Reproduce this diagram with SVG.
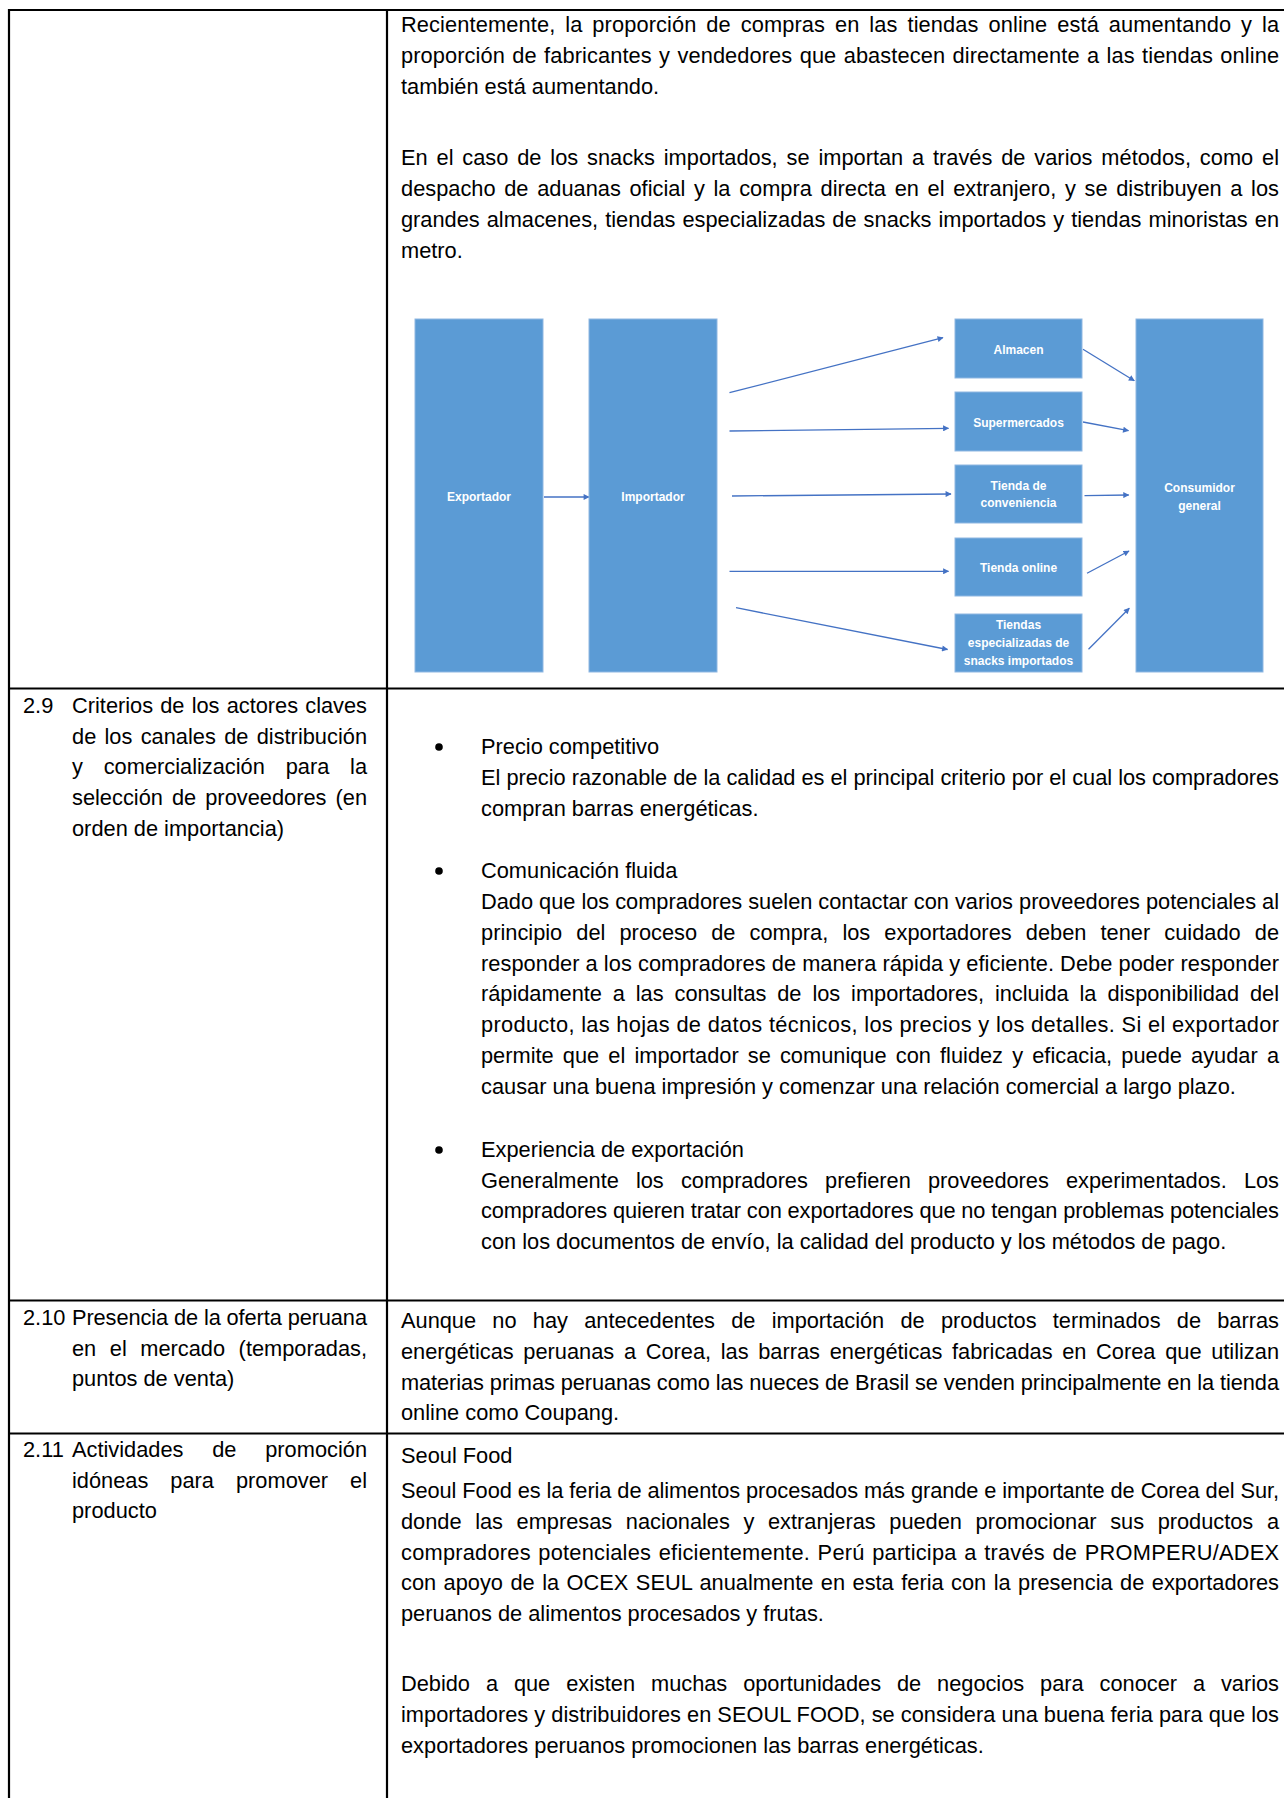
<svg xmlns="http://www.w3.org/2000/svg" width="1284" height="1798" viewBox="0 0 1284 1798">
<style>
.t{font-family:"Liberation Sans",Arial,sans-serif;font-size:21.8px;fill:#000}
.b{fill:#5B9BD5;stroke:#8FB7E2;stroke-width:1}
.l{font-family:"Liberation Sans",Arial,sans-serif;font-size:12px;font-weight:bold;fill:#fff;text-anchor:middle}
.c{stroke:#4472C4;stroke-width:1.3;fill:none;marker-end:url(#ah)}
.g{stroke:#000;stroke-width:2.2;fill:none}
</style>
<defs>
<marker id="ah" viewBox="0 0 10 10" refX="9" refY="5" markerWidth="7" markerHeight="6" orient="auto" markerUnits="userSpaceOnUse"><path d="M0,0 L10,5 L0,10 z" fill="#4472C4"/></marker>
</defs>
<rect x="0" y="0" width="1284" height="1798" fill="#fff"/>
<g id="table">
<line class="g" x1="8" y1="10" x2="1284" y2="10"/>
<line class="g" x1="9" y1="9" x2="9" y2="1798"/>
<line class="g" x1="387" y1="9" x2="387" y2="1798"/>
<line class="g" x1="8" y1="688.5" x2="1284" y2="688.5"/>
<line class="g" x1="8" y1="1300.5" x2="1284" y2="1300.5"/>
<line class="g" x1="8" y1="1433.5" x2="1284" y2="1433.5"/>
</g>
<g id="row1-text" class="t">
<text x="401" y="32" word-spacing="3.7" textLength="878" lengthAdjust="spacing">Recientemente, la proporción de compras en las tiendas online está aumentando y la</text>
<text x="401" y="63" word-spacing="1.2" textLength="878" lengthAdjust="spacing">proporción de fabricantes y vendedores que abastecen directamente a las tiendas online</text>
<text x="401" y="94">también está aumentando.</text>
<text x="401" y="165" word-spacing="2.8" textLength="878" lengthAdjust="spacing">En el caso de los snacks importados, se importan a través de varios métodos, como el</text>
<text x="401" y="196" word-spacing="2.6" textLength="878" lengthAdjust="spacing">despacho de aduanas oficial y la compra directa en el extranjero, y se distribuyen a los</text>
<text x="401" y="227" word-spacing="1" textLength="878" lengthAdjust="spacing">grandes almacenes, tiendas especializadas de snacks importados y tiendas minoristas en</text>
<text x="401" y="258">metro.</text>
</g>
<g id="connectors">
<line class="c" x1="544" y1="497" x2="589" y2="497"/>
<line class="c" x1="729.5" y1="392.7" x2="943" y2="337.7"/>
<line class="c" x1="729.5" y1="431" x2="948.5" y2="428.3"/>
<line class="c" x1="732" y1="496" x2="951" y2="494"/>
<line class="c" x1="729.5" y1="571.3" x2="948.5" y2="571.3"/>
<line class="c" x1="736" y1="607.7" x2="947.5" y2="649.5"/>
<line class="c" x1="1083" y1="349.3" x2="1134.3" y2="380.7"/>
<line class="c" x1="1083" y1="422" x2="1128.5" y2="430.7"/>
<line class="c" x1="1084.5" y1="495.7" x2="1128.7" y2="495"/>
<line class="c" x1="1087" y1="573.3" x2="1129" y2="551"/>
<line class="c" x1="1088.5" y1="649.3" x2="1129.3" y2="608.3"/>
</g>
<g id="exportador"><rect class="b" x="415" y="319" width="128" height="353"/><text class="l" x="479" y="501">Exportador</text></g>
<g id="importador"><rect class="b" x="589" y="319" width="128" height="353"/><text class="l" x="653" y="501">Importador</text></g>
<g id="almacen"><rect class="b" x="955" y="319" width="127" height="59"/><text class="l" x="1018.5" y="354">Almacen</text></g>
<g id="supermercados"><rect class="b" x="955" y="392" width="127" height="59"/><text class="l" x="1018.5" y="427">Supermercados</text></g>
<g id="tienda-conveniencia"><rect class="b" x="955" y="465" width="127" height="58"/><text class="l" x="1018.5" y="490">Tienda de</text><text class="l" x="1018.5" y="507">conveniencia</text></g>
<g id="tienda-online"><rect class="b" x="955" y="538" width="127" height="58"/><text class="l" x="1018.5" y="572">Tienda online</text></g>
<g id="tiendas-especializadas"><rect class="b" x="955" y="614" width="127" height="58"/><text class="l" x="1018.5" y="629">Tiendas</text><text class="l" x="1018.5" y="647">especializadas de</text><text class="l" x="1018.5" y="665">snacks importados</text></g>
<g id="consumidor"><rect class="b" x="1136" y="319" width="127" height="353"/><text class="l" x="1199.5" y="492">Consumidor</text><text class="l" x="1199.5" y="510">general</text></g>
<g id="row29-left" class="t">
<text x="23" y="713">2.9</text>
<text x="72" y="713" word-spacing="1.1" textLength="295" lengthAdjust="spacing">Criterios de los actores claves</text>
<text x="72" y="744" word-spacing="2.2" textLength="295" lengthAdjust="spacing">de los canales de distribución</text>
<text x="72" y="774" word-spacing="14.7" textLength="295" lengthAdjust="spacing">y comercialización para la</text>
<text x="72" y="805" word-spacing="3" textLength="295" lengthAdjust="spacing">selección de proveedores (en</text>
<text x="72" y="836">orden de importancia)</text>
</g>
<g id="row29-right" class="t">
<circle cx="439" cy="747" r="3.8" fill="#000"/>
<circle cx="439" cy="871" r="3.8" fill="#000"/>
<circle cx="439" cy="1150" r="3.8" fill="#000"/>
<text x="481" y="754">Precio competitivo</text>
<text x="481" y="785" textLength="798" lengthAdjust="spacing">El precio razonable de la calidad es el principal criterio por el cual los compradores</text>
<text x="481" y="816">compran barras energéticas.</text>
<text x="481" y="878">Comunicación fluida</text>
<text x="481" y="909" textLength="798" lengthAdjust="spacing">Dado que los compradores suelen contactar con varios proveedores potenciales al</text>
<text x="481" y="940" word-spacing="8" textLength="798" lengthAdjust="spacing">principio del proceso de compra, los exportadores deben tener cuidado de</text>
<text x="481" y="971" textLength="798" lengthAdjust="spacing">responder a los compradores de manera rápida y eficiente. Debe poder responder</text>
<text x="481" y="1001" word-spacing="4.9" textLength="798" lengthAdjust="spacing">rápidamente a las consultas de los importadores, incluida la disponibilidad del</text>
<text x="481" y="1032" textLength="798" lengthAdjust="spacing">producto, las hojas de datos técnicos, los precios y los detalles. Si el exportador</text>
<text x="481" y="1063" word-spacing="3.1" textLength="798" lengthAdjust="spacing">permite que el importador se comunique con fluidez y eficacia, puede ayudar a</text>
<text x="481" y="1094">causar una buena impresión y comenzar una relación comercial a largo plazo.</text>
<text x="481" y="1157">Experiencia de exportación</text>
<text x="481" y="1188" word-spacing="11.2" textLength="798" lengthAdjust="spacing">Generalmente los compradores prefieren proveedores experimentados. Los</text>
<text x="481" y="1218" textLength="798" lengthAdjust="spacing">compradores quieren tratar con exportadores que no tengan problemas potenciales</text>
<text x="481" y="1249">con los documentos de envío, la calidad del producto y los métodos de pago.</text>
</g>
<g id="row210" class="t">
<text x="23" y="1325">2.10</text>
<text x="72" y="1325" textLength="295" lengthAdjust="spacing">Presencia de la oferta peruana</text>
<text x="72" y="1356" word-spacing="7.5" textLength="295" lengthAdjust="spacing">en el mercado (temporadas,</text>
<text x="72" y="1386">puntos de venta)</text>
<text x="401" y="1328" word-spacing="10.2" textLength="878" lengthAdjust="spacing">Aunque no hay antecedentes de importación de productos terminados de barras</text>
<text x="401" y="1359" word-spacing="3.6" textLength="878" lengthAdjust="spacing">energéticas peruanas a Corea, las barras energéticas fabricadas en Corea que utilizan</text>
<text x="401" y="1390" textLength="878" lengthAdjust="spacing">materias primas peruanas como las nueces de Brasil se venden principalmente en la tienda</text>
<text x="401" y="1420">online como Coupang.</text>
</g>
<g id="row211" class="t">
<text x="23" y="1457">2.11</text>
<text x="72" y="1457" word-spacing="22.7" textLength="295" lengthAdjust="spacing">Actividades de promoción</text>
<text x="72" y="1488" word-spacing="15.9" textLength="295" lengthAdjust="spacing">idóneas para promover el</text>
<text x="72" y="1518">producto</text>
<text x="401" y="1463">Seoul Food</text>
<text x="401" y="1498" textLength="878" lengthAdjust="spacing">Seoul Food es la feria de alimentos procesados más grande e importante de Corea del Sur,</text>
<text x="401" y="1529" word-spacing="7.6" textLength="878" lengthAdjust="spacing">donde las empresas nacionales y extranjeras pueden promocionar sus productos a</text>
<text x="401" y="1560" word-spacing="1.3" textLength="878" lengthAdjust="spacing">compradores potenciales eficientemente. Perú participa a través de PROMPERU/ADEX</text>
<text x="401" y="1590" word-spacing="1.4" textLength="878" lengthAdjust="spacing">con apoyo de la OCEX SEUL anualmente en esta feria con la presencia de exportadores</text>
<text x="401" y="1621">peruanos de alimentos procesados y frutas.</text>
<text x="401" y="1691" word-spacing="9.9" textLength="878" lengthAdjust="spacing">Debido a que existen muchas oportunidades de negocios para conocer a varios</text>
<text x="401" y="1722" textLength="878" lengthAdjust="spacing">importadores y distribuidores en SEOUL FOOD, se considera una buena feria para que los</text>
<text x="401" y="1753">exportadores peruanos promocionen las barras energéticas.</text>
</g>
</svg>
